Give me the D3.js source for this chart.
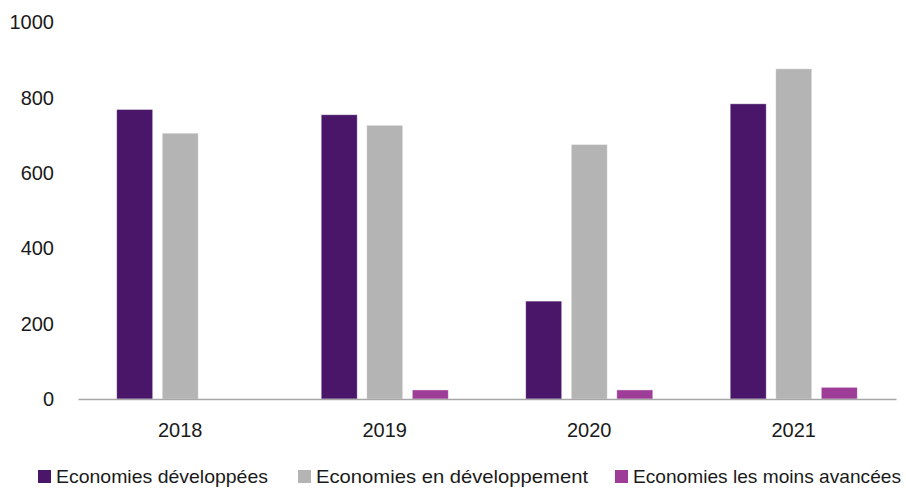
<!DOCTYPE html>
<html>
<head>
<meta charset="utf-8">
<script src="https://cdn.jsdelivr.net/npm/d3@7"></script>
<style>
  body { margin: 0; background: #fff; }
  svg text { font-family: "Liberation Sans", Arial, sans-serif; fill: #1a1a1a; }
</style>
</head>
<body>
<svg class="chart" width="906" height="489"></svg>
<script>
// data
var years = ["2018", "2019", "2020", "2021"];
var series = ["Economies développées", "Economies en développement", "Economies les moins avancées"];
var developpees = [769, 755, 260, 784];
var enDeveloppement = [706, 727, 676, 877];
var moinsAvancees = [0, 24, 24, 31];
var yTicks = [0, 200, 400, 600, 800, 1000];

var colors = ["#491669", "#b4b4b4", "#9e3d97"];

// legend layout (x of each swatch, width of each label)
var legendX = [38, 298, 615],
    legendW = [212, 272, 268];

var margin = {top: 22.5, left: 78, right: 10},
    baseline = 399;

var svg = d3.select(".chart");

// scales
var x0 = d3.scaleBand().domain(years).range([margin.left, margin.left + 818]).padding(0);
var x1 = d3.scaleBand().domain(series).range([0, x0.bandwidth()])
    .paddingInner(0.21).paddingOuter(0.85);
var y = d3.scaleLinear().domain([0, 1000]).range([baseline, margin.top]);

var rows = years.map(function(yr, i) {
    return {year: yr, values: [developpees[i], enDeveloppement[i], moinsAvancees[i]]};
});

// bars
var group = svg.selectAll("g.year")
    .data(rows)
  .enter().append("g")
    .attr("class", "year")
    .attr("transform", function(d) { return "translate(" + x0(d.year) + ",0)"; });

group.selectAll("rect")
    .data(function(d) { return d.values.map(function(v, j) { return {key: series[j], value: v, idx: j}; }); })
  .enter().filter(function(d) { return d.value > 0; }).append("rect")
    .attr("x", function(d) { return x1(d.key); })
    .attr("y", function(d) { return y(d.value); })
    .attr("width", x1.bandwidth())
    .attr("height", function(d) { return y(0) - y(d.value); })
    .attr("fill", function(d) { return colors[d.idx]; })
    .attr("stroke", "#fff")
    .attr("stroke-opacity", 0.5)
    .attr("stroke-width", 0.8);

// y axis, labels only
var yAxis = svg.append("g")
    .attr("transform", "translate(" + (margin.left - 24) + ",0)")
    .call(d3.axisLeft(y).tickValues(yTicks).tickSize(0).tickPadding(0).tickFormat(d3.format("d")));
yAxis.select(".domain").remove();
yAxis.selectAll("text").style("font-size", "20px").attr("font-family", null);

// x axis
var xAxis = svg.append("g")
    .attr("transform", "translate(0," + baseline + ")")
    .call(d3.axisBottom(x0).tickSize(0).tickPadding(24));
xAxis.select(".domain").attr("stroke", "#a6a6a6").attr("stroke-width", 1.5);
xAxis.selectAll("text").style("font-size", "20px").attr("font-family", null);

// legend
var legend = svg.append("g").attr("transform", "translate(0,470)");
series.forEach(function(name, i) {
    legend.append("rect")
        .attr("x", legendX[i]).attr("y", 0)
        .attr("width", 13).attr("height", 13)
        .attr("fill", colors[i]);
    legend.append("text")
        .attr("x", legendX[i] + 18).attr("y", 13)
        .attr("textLength", legendW[i])
        .attr("lengthAdjust", "spacingAndGlyphs")
        .style("font-size", "19px")
        .text(name);
});
</script>
</body>
</html>
